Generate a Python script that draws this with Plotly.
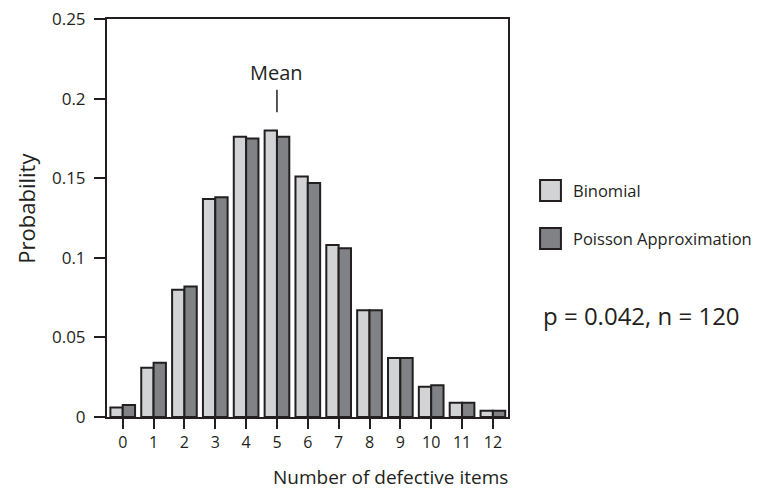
import plotly.graph_objects as go

# number of defective items
defects = list(range(13))
tick_text = [str(k) for k in defects]

# probabilities
binomial = [0.006, 0.031, 0.080, 0.137, 0.176, 0.180, 0.151, 0.108, 0.067, 0.037, 0.019, 0.009, 0.004]
poisson = [0.0075, 0.034, 0.082, 0.138, 0.175, 0.176, 0.147, 0.106, 0.067, 0.037, 0.020, 0.009, 0.004]

mean_x = 5
mean_line = [0.1915, 0.2055]
mean_label_y = 0.2165

INK = "#231f20"
LIGHT = "#d1d3d4"
DARK = "#808285"
FONT = "Open Sans"

fig = go.Figure()
fig.add_trace(go.Bar(x=defects, y=binomial, name="Binomial",
                     marker=dict(color=LIGHT, line=dict(color=INK, width=2))))
fig.add_trace(go.Bar(x=defects, y=poisson, name="Poisson Approximation",
                     marker=dict(color=DARK, line=dict(color=INK, width=2))))

# mean marker
fig.add_trace(go.Scatter(x=[mean_x, mean_x], y=mean_line, mode="lines",
                         line=dict(color=INK, width=1.5), showlegend=False,
                         hoverinfo="skip"))
fig.add_annotation(x=mean_x, y=mean_label_y, text="Mean", showarrow=False,
                   font=dict(size=20, color=INK, family=FONT))

# hand-drawn legend to the right of the plot
legend_items = [("Binomial", LIGHT, 0.569), ("Poisson Approximation", DARK, 0.4485)]
for label, color, ypos in legend_items:
    fig.add_shape(type="rect", xref="paper", yref="paper",
                  x0=1.080, x1=1.132, y0=ypos - 0.0264, y1=ypos + 0.0264,
                  fillcolor=color, line=dict(color=INK, width=2))
    fig.add_annotation(xref="paper", yref="paper", x=1.156, y=ypos, text=label,
                       showarrow=False, xanchor="left", yanchor="middle",
                       font=dict(size=16.5, color=INK, family=FONT))

fig.add_annotation(xref="paper", yref="paper", x=1.083, y=0.256,
                   text="p = 0.042, n = 120", showarrow=False,
                   xanchor="left", yanchor="middle",
                   font=dict(size=24, color=INK, family=FONT))

fig.add_annotation(xref="paper", yref="paper", x=0.706, y=-0.151,
                   text="Number of defective items", showarrow=False,
                   xanchor="center", yanchor="middle",
                   font=dict(size=19, color=INK, family=FONT))
fig.add_annotation(xref="paper", yref="paper", x=-0.203, y=0.525,
                   text="Probability", showarrow=False, textangle=-90,
                   xanchor="center", yanchor="middle",
                   font=dict(size=22, color=INK, family=FONT))

# the page body adds an 8px offset, so margins are shifted to compensate
fig.update_layout(
    width=766, height=491,
    margin=dict(l=99, r=266, t=11, b=82),
    paper_bgcolor="white", plot_bgcolor="white",
    barmode="group", bargap=0.2, bargroupgap=0,
    showlegend=False,
    font=dict(family=FONT, color=INK, size=16),
)
fig.update_xaxes(range=[-0.51, 12.49], tickvals=defects, ticktext=tick_text,
                 showline=True, linecolor=INK, linewidth=2, mirror=True,
                 ticks="outside", ticklen=10, tickwidth=2, tickcolor=INK,
                 showgrid=False, zeroline=False, tickfont=dict(size=16),
                 automargin=False, ticklabeloverflow="allow")
fig.update_yaxes(range=[0, 0.25], tickvals=[0, 0.05, 0.1, 0.15, 0.2, 0.25],
                 ticktext=["0", "0.05", "0.1", "0.15", "0.2", "0.25"],
                 showline=True, linecolor=INK, linewidth=2, mirror=True,
                 ticks="outside", ticklen=11, tickwidth=2, tickcolor=INK,
                 showgrid=False, zeroline=False, tickfont=dict(size=17),
                 ticklabelstandoff=5,
                 automargin=False, ticklabeloverflow="allow")

fig.write_html("out.html")
